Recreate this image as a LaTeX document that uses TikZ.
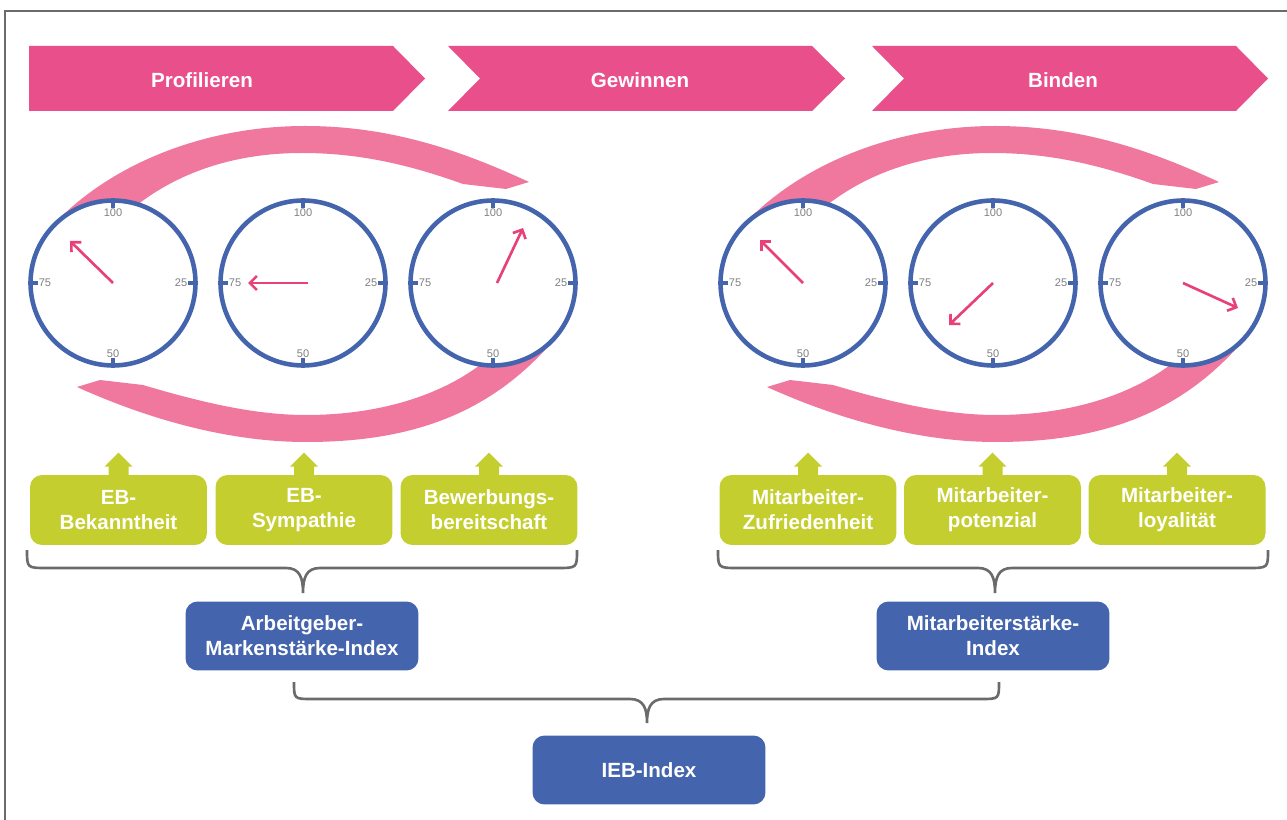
\documentclass[tikz,border=0pt]{standalone}
\usepackage{fontspec}
\setmainfont{Liberation Sans}
\usetikzlibrary{calc,arrows.meta}

\definecolor{chevPink}{HTML}{E94F8B}
\definecolor{arcPink}{HTML}{F0789F}
\definecolor{needlePink}{HTML}{E8407A}
\definecolor{dialBlue}{HTML}{4465AD}
\definecolor{boxGreen}{HTML}{C5CE2F}
\definecolor{braceGray}{HTML}{6B6B6B}
\definecolor{numGray}{HTML}{808080}

\tikzstyle{chevL}=[font=\fontsize{11.7}{14}\selectfont\bfseries, text=white, inner sep=0pt]
\tikzstyle{dS}=[circle, draw=dialBlue, fill=white, line width=2.6pt, minimum size=3.3cm, inner sep=0pt]
\tikzstyle{tS}=[draw=dialBlue, line width=1.9pt]
\tikzstyle{nS}=[font=\fontsize{6.3}{7}\selectfont, text=numGray, inner sep=0pt]
\tikzstyle{pS}=[draw=needlePink, line width=1.5pt, -{Straight Barb[length=4pt,width=8pt]}]
\tikzstyle{gS}=[rectangle, rounded corners=0.24cm, fill=boxGreen, text=white, minimum width=3.54cm, minimum height=1.4cm, inner sep=0pt, align=center, font=\fontsize{11.7}{14.2}\selectfont\bfseries]
\tikzstyle{bS}=[rectangle, rounded corners=0.24cm, fill=dialBlue, text=white, minimum width=4.66cm, minimum height=1.38cm, inner sep=0pt, align=center, font=\fontsize{11.7}{14.2}\selectfont\bfseries]
\tikzstyle{kS}=[draw=braceGray, line width=1.5pt]

\begin{document}
\begin{tikzpicture}[x=0.02cm,y=-0.02cm]
    \useasboundingbox (0,0) rectangle (1287,820);
    % frame
    \draw[braceGray, line width=0.8pt] (1287,11) -- (5,11) -- (5,820);
    % phases
    \fill[chevPink] (29,46) -- (393,46) -- (425,78.5) -- (393,111) -- (29,111) -- cycle;
    \fill[chevPink] (448,46) -- (812,46) -- (845,78.5) -- (812,111) -- (448,111) -- (480,78.5) -- cycle;
    \fill[chevPink] (872,46) -- (1236,46) -- (1268,78.5) -- (1236,111) -- (872,111) -- (904,78.5) -- cycle;
    \draw (202,80) node[chevL] (pro) {Profilieren};
    \draw (640,80) node[chevL] (gew) {Gewinnen};
    \draw (1063,80) node[chevL] (bin) {Binden};
    % cycle arcs behind the dials
    \foreach \s in {0,690}{
        \fill[arcPink, shift={(\s,0)}] (62,216) .. controls (120,160) and (210,126) .. (305,126)
            .. controls (390,126) and (460,150) .. (529,182) -- (506,189) -- (463,184)
            .. controls (410,165) and (360,153) .. (302,153)
            .. controls (230,153) and (170,175) .. (125,215) -- cycle;
        \fill[arcPink, shift={(\s,0)}] (77,387) -- (100,380) -- (143,385)
            .. controls (210,405) and (260,415) .. (306,415)
            .. controls (380,415) and (440,395) .. (480,365) -- (545,350)
            .. controls (480,420) and (400,442) .. (306,442)
            .. controls (230,442) and (150,420) .. (77,387) -- cycle;
    }
    % dials
    \draw (113,283) node[dS] (g1) {};
    \draw (303,283) node[dS] (g2) {};
    \draw (493,283) node[dS] (g3) {};
    \draw (803,283) node[dS] (g4) {};
    \draw (993,283) node[dS] (g5) {};
    \draw (1183,283) node[dS] (g6) {};
    \foreach \g in {g1,g2,g3,g4,g5,g6}{
        \draw[tS] (\g.north) -- ++(0,10);
        \draw[tS] (\g.south) -- ++(0,-10);
        \draw[tS] (\g.west) -- ++(10,0);
        \draw[tS] (\g.east) -- ++(-10,0);
        \node[nS] at ($(\g)+(0,-70)$) {100};
        \node[nS] at ($(\g)+(0,71)$) {50};
        \node[nS] at ($(\g)+(-68,0)$) {75};
        \node[nS] at ($(\g)+(68,0)$) {25};
    }
    \draw[pS] (g1.center) -- ++(-43,-42);
    \draw[pS] ($(g2)+(5,0)$) -- ++(-60,0);
    \draw[pS] ($(g3)+(4,0)$) -- ++(26,-55);
    \draw[pS] (g4.center) -- ++(-43,-43);
    \draw[pS] (g5.center) -- ++(-44,42);
    \draw[pS] (g6.center) -- ++(55,25);
    % drivers
    \draw (118.5,510) node[gS] (bek) {EB-\\Bekanntheit};
    \draw (304,510) node[gS] (sym) {EB-\\Sympathie};
    \draw (489,510) node[gS] (bew) {Bewerbungs-\\bereitschaft};
    \draw (808,510) node[gS] (zuf) {Mitarbeiter-\\Zufriedenheit};
    \draw (992.5,510) node[gS] (pot) {Mitarbeiter-\\potenzial};
    \draw (1177,510) node[gS] (loy) {Mitarbeiter-\\loyalit\"at};
    \foreach \b in {bek,sym,bew,zuf,pot,loy}
        \fill[boxGreen] ($(\b.north)+(-10,0.5)$) -- ++(0,-8.5) -- ++(-4,0) -- ++(14,-14)
            -- ++(14,14) -- ++(-4,0) -- ++(0,8.5) -- cycle;
    % indices
    \draw (302,636) node[bS] (ami) {Arbeitgeber-\\Markenst\"arke-Index};
    \draw (993,636) node[bS] (msi) {Mitarbeiterst\"arke-\\Index};
    \draw (649,770) node[bS] (ieb) {IEB-Index};
    % braces
    \coordinate (amiTip) at (303,593);
    \coordinate (msiTip) at (995,593);
    \coordinate (iebTip) at (647,723);
    \draw[kS] (27,550) .. controls (27,568) .. (47,568) -- (286,568)
        .. controls (300,568) and (303,578) .. (amiTip)
        .. controls (303,578) and (306,568) .. (320,568) -- (557,568) .. controls (577,568) .. (577,550);
    \draw[kS] (718,550) .. controls (718,568) .. (738,568) -- (978,568)
        .. controls (992,568) and (995,578) .. (msiTip)
        .. controls (995,578) and (998,568) .. (1012,568) -- (1248,568) .. controls (1268,568) .. (1268,550);
    \draw[kS] (294,682) .. controls (294,699) .. (312,699) -- (630,699)
        .. controls (644,699) and (647,709) .. (iebTip)
        .. controls (647,709) and (650,699) .. (664,699) -- (981,699) .. controls (999,699) .. (999,682);
\end{tikzpicture}
\end{document}
